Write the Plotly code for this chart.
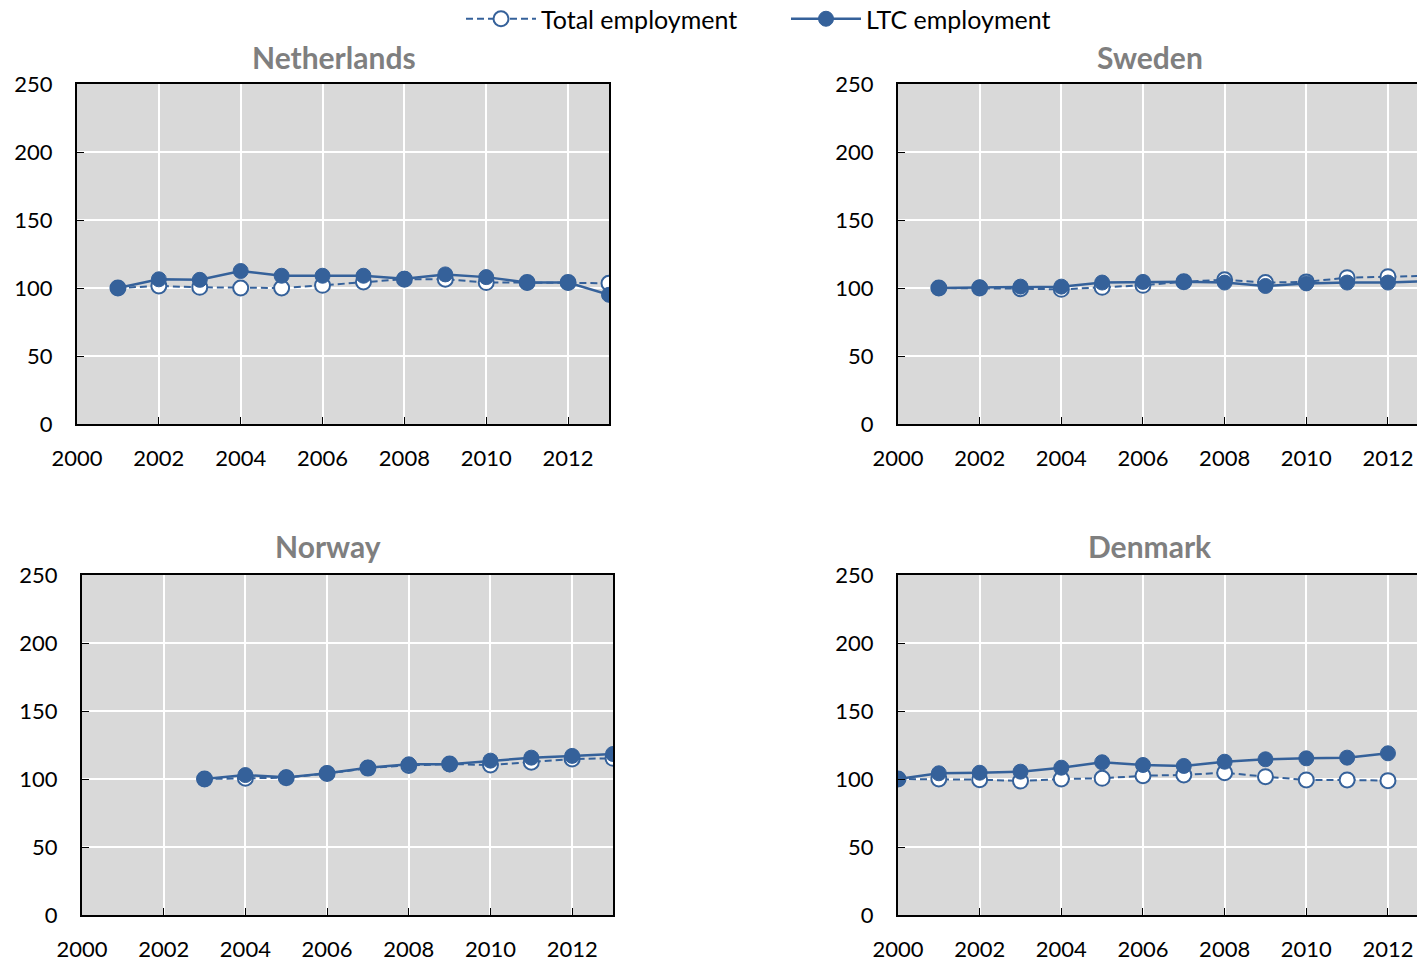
import plotly.graph_objects as go

countries = ["Netherlands", "Sweden", "Norway", "Denmark"]

nl_years = list(range(2001, 2014))
nl_total = [100, 101.5, 100.5, 100, 100, 102, 104.5, 106.5, 106.5, 104, 104, 104, 103.5]
nl_ltc = [100, 106.4, 106, 112.5, 109, 109, 109, 106.8, 110, 108, 104, 104, 95]

se_years = list(range(2001, 2014))
se_total = [100, 100, 99.5, 99, 100.5, 102, 104.6, 106, 104, 104.5, 107.6, 108.3, 109]
se_ltc = [100, 100.5, 101, 101, 104, 104.5, 104.6, 104, 101.5, 103.4, 104, 104, 105]

no_years = list(range(2003, 2014))
no_total = [100, 100.6, 101, 104, 108, 110, 111, 110.3, 112.3, 114.7, 115.2]
no_ltc = [100, 102.9, 101.2, 104.2, 108.3, 110.8, 110.8, 113.5, 115.7, 117, 118.4]

dk_years = list(range(2000, 2013))
dk_total = [100, 100, 99.5, 98.5, 100, 100.5, 102.4, 103, 104.6, 101.7, 99.3, 99.3, 98.8]
dk_ltc = [100, 104.2, 104.6, 105.4, 108.3, 112.3, 110.3, 109.6, 112.7, 114.5, 115.2, 115.7, 118.9]

y_ticks = [0, 50, 100, 150, 200, 250]
x_ticks = [2000, 2002, 2004, 2006, 2008, 2010, 2012]

series = [
    (nl_years, nl_total, nl_ltc),
    (se_years, se_total, se_ltc),
    (no_years, no_total, no_ltc),
    (dk_years, dk_total, dk_ltc),
]

W, H = 1417, 962
BLUE = "#35619a"
FONT = "Lato"

# pixel boxes (left, right, top, bottom)
boxes = [
    (77, 609, 84, 424),
    (898, 1417, 84, 424),
    (82, 613, 575, 915),
    (898, 1417, 575, 915),
]
x_ranges = [
    [2000, 2013],
    [2000, 2000 + (1417 - 898) / 40.83],
    [2000, 2013],
    [2000, 2000 + (1417 - 898) / 40.83],
]
title_pos = [(334, 57), (1150, 57), (328, 546), (1150, 546)]

fig = go.Figure()
layout = {}
for i, (yrs, tot, ltc) in enumerate(series):
    n = i + 1
    xa = "x" if n == 1 else f"x{n}"
    ya = "y" if n == 1 else f"y{n}"
    fig.add_trace(go.Scatter(
        x=yrs, y=tot, xaxis=xa, yaxis=ya, mode="lines+markers",
        name="Total employment", legendgroup="tot", showlegend=(i == 0),
        line=dict(color=BLUE, width=2, dash="7px,4px"),
        marker=dict(symbol="circle", size=15, color="white",
                    line=dict(color=BLUE, width=2)),
        cliponaxis=True,
    ))
    fig.add_trace(go.Scatter(
        x=yrs, y=ltc, xaxis=xa, yaxis=ya, mode="lines+markers",
        name="LTC employment", legendgroup="ltc", showlegend=(i == 0),
        line=dict(color=BLUE, width=2.5),
        marker=dict(symbol="circle", size=15, color=BLUE,
                    line=dict(color=BLUE, width=1)),
        cliponaxis=True,
    ))
    l, r, t, b = boxes[i]
    right_panel = i in (1, 3)
    xkey = "xaxis" if n == 1 else f"xaxis{n}"
    ykey = "yaxis" if n == 1 else f"yaxis{n}"
    layout[xkey] = dict(
        domain=[l / W, r / W], anchor=ya, range=x_ranges[i],
        tickvals=x_ticks, ticks="inside", ticklen=7, tickcolor="black",
        showline=True, linecolor="black", linewidth=2, mirror=True,
        showgrid=True, gridcolor="white", gridwidth=2, zeroline=False,
        tickfont=dict(family=FONT, size=22, color="black"),
        ticklabelstandoff=14, automargin=False,
    )
    layout[ykey] = dict(
        domain=[1 - b / H, 1 - t / H], anchor=xa, range=[0, 250],
        tickvals=y_ticks, ticks="inside", ticklen=7, tickcolor="black",
        showline=True, linecolor="black", linewidth=2,
        mirror=(not right_panel),
        showgrid=True, gridcolor="white", gridwidth=2, zeroline=False,
        tickfont=dict(family=FONT, size=22, color="black"),
        ticklabelstandoff=18, automargin=False,
    )

annotations = []
for i, name in enumerate(countries):
    x, y = title_pos[i]
    annotations.append(dict(
        text=f"<b>{name}</b>", x=x / W, y=1 - y / H, xref="paper", yref="paper",
        xanchor="center", yanchor="middle", showarrow=False,
        font=dict(family=FONT, size=30, color="#7f7f7f"),
    ))

fig.update_layout(
    width=W, height=H,
    margin=dict(l=0, r=0, t=0, b=0, autoexpand=False),
    paper_bgcolor="white", plot_bgcolor="#d9d9d9",
    showlegend=True,
    legend=dict(orientation="h", x=461 / W, xanchor="left", y=1 - 19 / H,
                yanchor="middle", font=dict(family=FONT, size=25, color="black"),
                itemwidth=70, entrywidth=240, bgcolor="rgba(0,0,0,0)",
                tracegroupgap=0),
    annotations=annotations,
    **layout,
)

fig.write_html("out.html", post_script="document.body.style.margin='0';",
               config={"displayModeBar": False})
